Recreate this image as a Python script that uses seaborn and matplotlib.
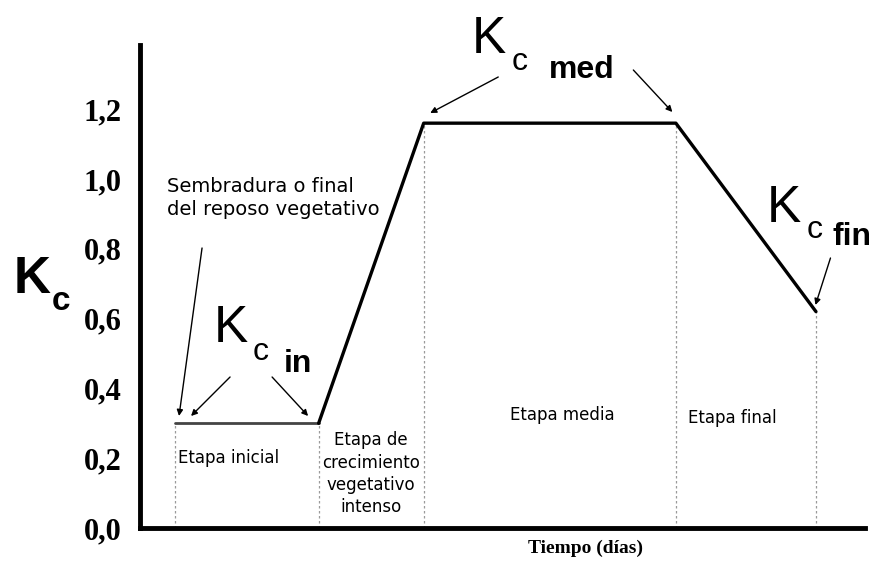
import numpy as np
import pandas as pd
import seaborn as sns
from matplotlib import pyplot as plt

# Curva del coeficiente de cultivo (Kc) por etapas

dias = [10, 51, 81, 153, 193]
kc = [0.30, 0.30, 1.16, 1.16, 0.62]
ytick_vals = [0.0, 0.2, 0.4, 0.6, 0.8, 1.0, 1.2]
ytick_labels = ['0,0', '0,2', '0,4', '0,6', '0,8', '1,0', '1,2']

sns.set_style('white')
plt.rcParams['font.family'] = ['Liberation Sans', 'DejaVu Sans']
plt.rcParams['text.color'] = 'black'
plt.rcParams['ytick.color'] = 'black'

fig = plt.figure(figsize=(8.77, 5.61), dpi=100)
ax = fig.add_axes([140 / 877, 33 / 561, 725 / 877, 483 / 561])

# pixel position in the picture -> data coords (for labels and arrows)
def px(x, y):
    return ((x - 140) / 3.5, (528 - y) / 349)

df = pd.DataFrame({'dias': dias, 'kc': kc})

ax.vlines(df['dias'], 0, df['kc'], colors='#9a9a9a', linestyles=(0, (2, 2)), lw=0.9)
sns.lineplot(data=df.iloc[:2], x='dias', y='kc', color='#444444', lw=2, ax=ax)
sns.lineplot(data=df.iloc[1:], x='dias', y='kc', color='black', lw=2.4, ax=ax)

ax.set_xlim(0, 207)
ax.set_ylim(0, 483 / 349)
ax.set_xticks([])
ax.set_yticks(ytick_vals)
ax.set_yticklabels(ytick_labels, family='Liberation Serif', fontweight='bold', fontsize=22)
ax.tick_params(axis='y', direction='in', length=12, width=2, pad=13, color='black', labelcolor='black')
ax.set_xlabel('')
ax.set_ylabel('')
for s in ['top', 'right']:
    ax.spines[s].set_visible(False)
for s in ['left', 'bottom']:
    ax.spines[s].set_linewidth(3.5)
    ax.spines[s].set_color('black')

def tx(x, y, s, **kw):
    ax.text(*px(x, y), s, va='baseline', ha=kw.pop('ha', 'left'), clip_on=False,
            color='black', **kw)

# Kc eje
tx(14, 293, 'K', fontsize=37, fontweight='bold')
tx(52, 310, 'c', fontsize=24, fontweight='bold')

# Kc in
tx(214, 342, 'K', fontsize=37)
tx(253, 360, 'c', fontsize=23)
tx(284, 372, 'in', fontsize=23, fontweight='bold')

# Kc med
tx(472, 53, 'K', fontsize=37)
tx(511, 70, 'c', fontsize=23)
tx(549, 78, 'med', fontsize=23, fontweight='bold')

# Kc fin
tx(766, 222, 'K', fontsize=37)
tx(806, 238, 'c', fontsize=23)
tx(832, 245, 'fin', fontsize=23, fontweight='bold')

tx(167, 192, 'Sembradura o final', fontsize=14, family='DejaVu Sans')
tx(167, 215, 'del reposo vegetativo', fontsize=14, family='DejaVu Sans')

etiqueta = dict(fontsize=12, family='DejaVu Sans')
tx(178, 463, 'Etapa inicial', **etiqueta)
for i, linea in enumerate(['Etapa de', 'crecimiento', 'vegetativo', 'intenso']):
    tx(371, 445 + i * 22.5, linea, ha='center', **etiqueta)
tx(510, 420, 'Etapa media', **etiqueta)
tx(688, 423, 'Etapa final', **etiqueta)

tx(585, 553, 'Tiempo (días)', fontsize=14, family='Liberation Serif', fontweight='bold', ha='center')

flecha = dict(arrowstyle='-|>', lw=1.0, color='black', mutation_scale=9, shrinkA=0, shrinkB=0)
for (x0, y0), (x1, y1) in [((202, 248), (179, 416)),
                           ((230, 377), (191, 416)),
                           ((272, 377), (308, 416)),
                           ((498, 77), (430, 113)),
                           ((633, 70), (672, 112)),
                           ((830, 258), (815, 305))]:
    ax.annotate('', xy=px(x1, y1), xytext=px(x0, y0), arrowprops=flecha, annotation_clip=False)

plt.savefig('out.png', dpi=100)
